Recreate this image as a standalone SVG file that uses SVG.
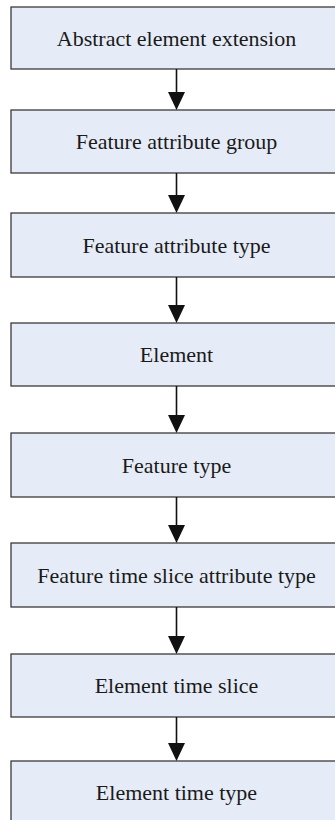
<svg xmlns="http://www.w3.org/2000/svg" width="335" height="820" viewBox="0 0 335 820">
<style>
.box{fill:#E6ECF7;stroke:#3a3a3a;stroke-width:1.3}
.lbl{font-family:'Liberation Serif',serif;font-size:22px;fill:#1a1a1a;text-anchor:middle}
.conn line{stroke:#111;stroke-width:1.6}
.conn polygon{fill:#111}
</style>
<rect width="335" height="820" fill="#ffffff"/>
<g id="n1"><rect class="box" x="11" y="7" width="340" height="62"/><text class="lbl" x="176.5" y="45.5">Abstract element extension</text></g>
<g id="n2"><rect class="box" x="11" y="110" width="340" height="63"/><text class="lbl" x="176.5" y="149">Feature attribute group</text></g>
<g id="n3"><rect class="box" x="11" y="213" width="340" height="64"/><text class="lbl" x="176.5" y="252.5">Feature attribute type</text></g>
<g id="n4"><rect class="box" x="11" y="323" width="340" height="63"/><text class="lbl" x="176.5" y="362">Element</text></g>
<g id="n5"><rect class="box" x="11" y="433" width="340" height="64"/><text class="lbl" x="176.5" y="472.5">Feature type</text></g>
<g id="n6"><rect class="box" x="11" y="543" width="340" height="64"/><text class="lbl" x="176.5" y="582.5">Feature time slice attribute type</text></g>
<g id="n7"><rect class="box" x="11" y="654" width="340" height="63"/><text class="lbl" x="176.5" y="693">Element time slice</text></g>
<g id="n8"><rect class="box" x="11" y="761" width="340" height="70"/><text class="lbl" x="176.5" y="800">Element time type</text></g>
<g class="conn" id="connectors">
<line x1="176.5" y1="69" x2="176.5" y2="93"/><polygon points="168,92 185,92 176.5,110"/>
<line x1="176.5" y1="173" x2="176.5" y2="196"/><polygon points="168,195 185,195 176.5,213"/>
<line x1="176.5" y1="277" x2="176.5" y2="306"/><polygon points="168,305 185,305 176.5,323"/>
<line x1="176.5" y1="386" x2="176.5" y2="416"/><polygon points="168,415 185,415 176.5,433"/>
<line x1="176.5" y1="497" x2="176.5" y2="526"/><polygon points="168,525 185,525 176.5,543"/>
<line x1="176.5" y1="607" x2="176.5" y2="637"/><polygon points="168,636 185,636 176.5,654"/>
<line x1="176.5" y1="717" x2="176.5" y2="744"/><polygon points="168,743 185,743 176.5,761"/>
</g>
</svg>
